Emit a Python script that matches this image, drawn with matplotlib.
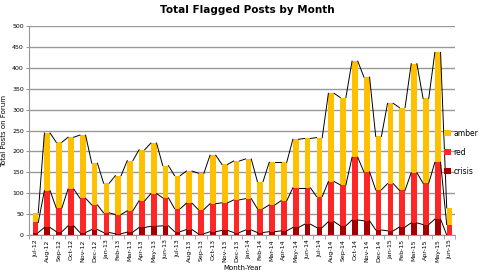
import matplotlib
matplotlib.use("Agg")
import matplotlib.pyplot as plt
import numpy as np

months = ["Jul-12", "Aug-12", "Sep-12", "Oct-12", "Nov-12", "Dec-12",
          "Jan-13", "Feb-13", "Mar-13", "Apr-13", "May-13", "Jun-13",
          "Jul-13", "Aug-13", "Sep-13", "Oct-13", "Nov-13", "Dec-13",
          "Jan-14", "Feb-14", "Mar-14", "Apr-14", "May-14", "Jun-14",
          "Jul-14", "Aug-14", "Sep-14", "Oct-14", "Nov-14", "Dec-14",
          "Jan-15", "Feb-15", "Mar-15", "Apr-15", "May-15", "Jun-15"]
# totaux cumules
crisis = [6, 18, 8, 22, 6, 13, 6, 3, 7, 18, 21, 22,
          8, 13, 3, 8, 11, 6, 12, 6, 8, 10, 18, 26,
          18, 32, 22, 36, 34, 12, 10, 19, 29, 25, 38, 0]
red_top = [30, 106, 65, 110, 88, 72, 53, 49, 58, 82, 99, 89,
           63, 76, 61, 75, 77, 84, 87, 63, 72, 82, 113, 113,
           92, 128, 120, 186, 151, 108, 123, 107, 149, 124, 174, 25]
total = [53, 244, 222, 234, 239, 172, 124, 142, 178, 204, 220, 166,
         142, 153, 148, 191, 169, 177, 182, 128, 174, 174, 229, 231,
         233, 339, 329, 416, 378, 236, 315, 305, 410, 327, 437, 65]

crisis = np.array(crisis)
red = np.array(red_top) - crisis
amber = np.array(total) - np.array(red_top)

fig = plt.figure(figsize=(4.94, 2.74), dpi=100)
ax = fig.add_axes([0.0597, 0.1423, 0.8623, 0.7627])
x = np.arange(len(months))
w = 0.48

ax.bar(x, crisis, w, color="#A50000", label="crisis", zorder=3)
ax.bar(x, red, w, bottom=crisis, color="#FF2626", label="red", zorder=3)
ax.bar(x, amber, w, bottom=red_top, color="#FFC000", label="amber", zorder=3)

# series lines entre les barres
for lev in (crisis, red_top, total):
    for i in range(len(x) - 1):
        ax.plot([x[i] + w / 2, x[i + 1] - w / 2], [lev[i], lev[i + 1]],
                color="black", lw=0.7, zorder=4)

ax.set_xlim(-0.5, len(x) - 0.5)
ax.set_ylim(0, 500)
ax.set_yticks(np.arange(0, 501, 50))
ax.yaxis.grid(True, color="#999999", lw=1, zorder=0)
ax.set_xticks(x)
ax.set_xticklabels(months, rotation=90, fontsize=4.5)
ax.set_xticks(np.arange(-0.5, len(x)), minor=True)
ax.tick_params(axis="x", which="major", length=0, pad=3)
ax.tick_params(axis="x", which="minor", length=3, color="#999999")
ax.tick_params(axis="y", labelsize=4.5, length=2, color="#999999", pad=2)
for s in ("top", "right"):
    ax.spines[s].set_visible(False)
for s in ("left", "bottom"):
    ax.spines[s].set_color("#999999")

ax.set_ylabel("Total Posts on Forum", fontsize=5, labelpad=4)
ax.set_xlabel("Month-Year", fontsize=5, labelpad=2)
fig.suptitle("Total Flagged Posts by Month", fontsize=7.5, fontweight="bold", y=0.98)

h, l = ax.get_legend_handles_labels()
fig.legend(h[::-1], l[::-1], loc="center left", bbox_to_anchor=(0.893, 0.445),
           frameon=False, fontsize=5.5, handlelength=0.9, handleheight=0.9,
           handletextpad=0.3, labelspacing=1.3, borderaxespad=0)

fig.savefig("out.png", dpi=100)
